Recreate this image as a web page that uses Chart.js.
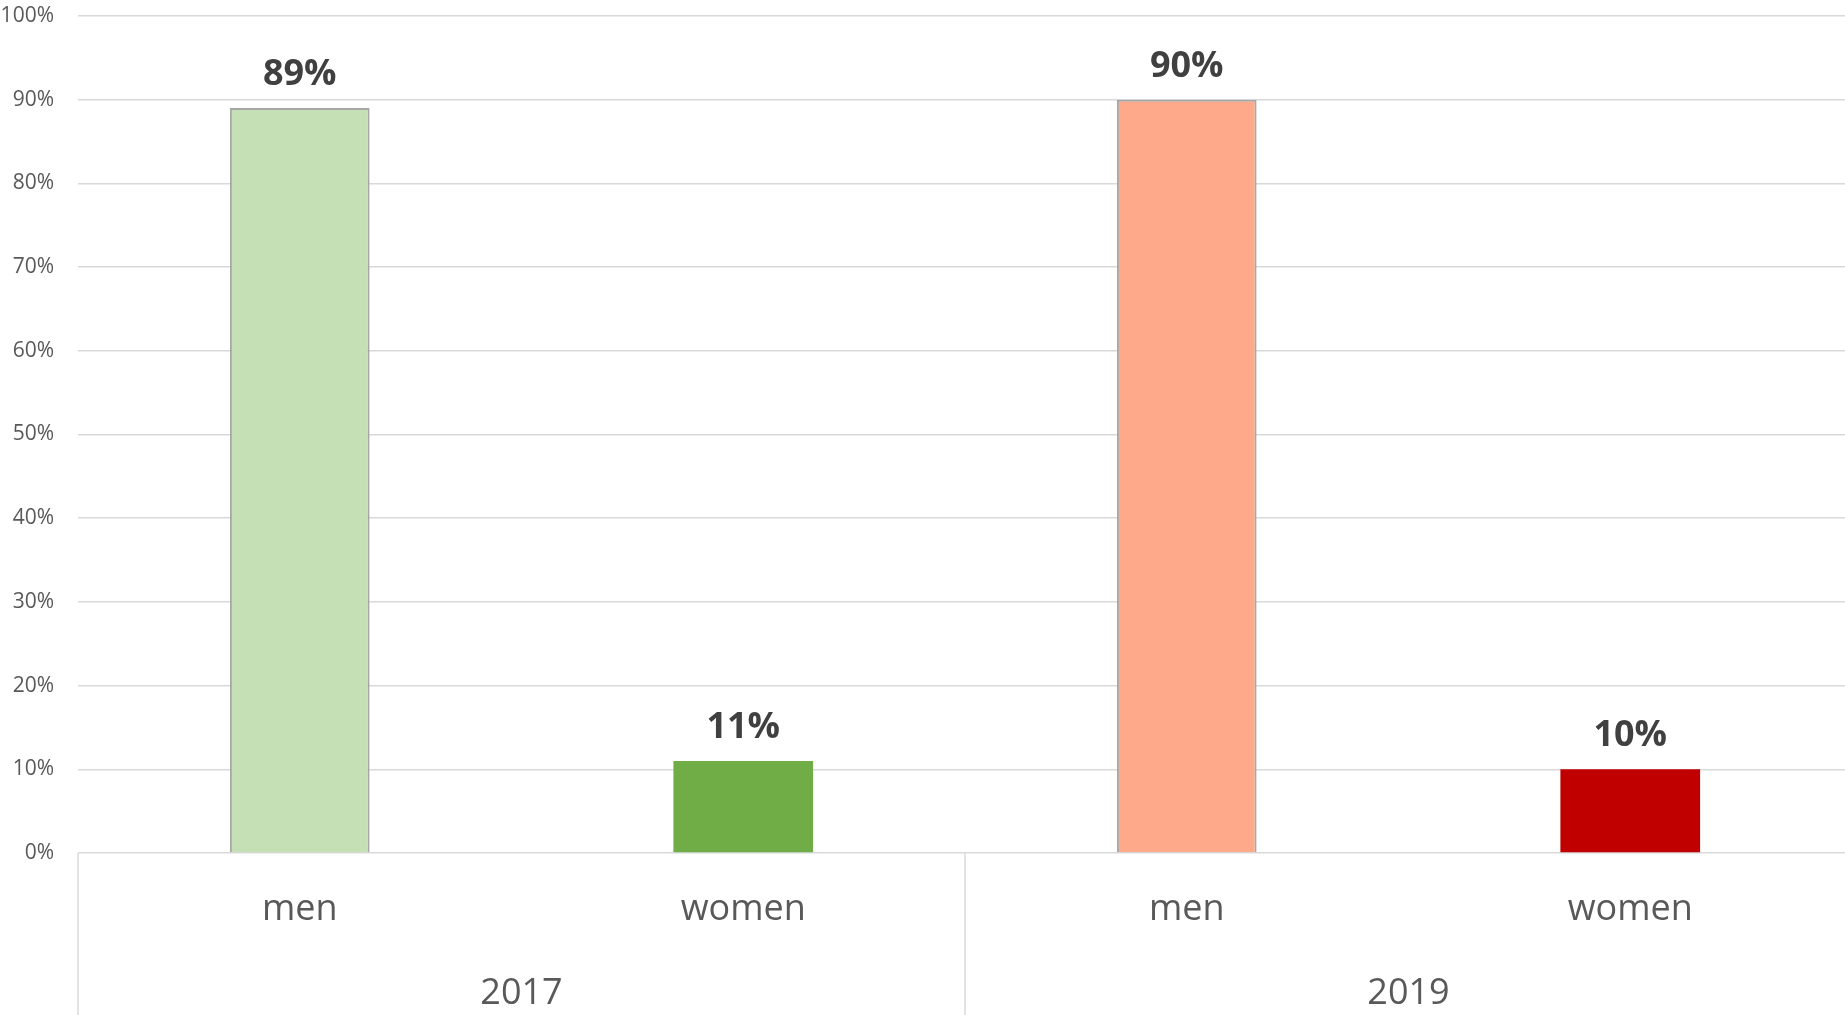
<!DOCTYPE html>
<html lang="en">
<head>
  <meta charset="UTF-8">
  <title>Men and women, 2017 and 2019</title>
  <script src="https://cdn.jsdelivr.net/npm/chart.js"></script>
  <style>
    body {
      margin: 0;
      background: #fff;
      overflow: hidden;
    }
    /* plot runs a few px past the right edge, as in the original */
    .wrap {
      width: 1852px;
      height: 1015px;
      position: relative;
    }
  </style>
</head>
<body>
  <div class="wrap">
    <canvas id="shareChart"></canvas>
  </div>

  <script>
    // data
    const groups = ['men', 'women', 'men', 'women'];
    const years = ['2017', '2019'];
    const shares = [89, 11, 90, 10];
    const barColors = ['#c5e0b4', '#70ad47', '#ffa98b', '#c00000'];
    const barBorders = ['#a6a6a6', '#70ad47', '#a6a6a6', '#c00000'];
    const yTicks = [0, 10, 20, 30, 40, 50, 60, 70, 80, 90, 100];

    const gridGrey = '#d9d9d9';
    const textGrey = '#595959';

    // value labels above the bars
    const valueLabels = {
      id: 'valueLabels',
      afterDatasetsDraw(chart) {
        const ctx = chart.ctx;
        const meta = chart.getDatasetMeta(0);
        ctx.save();
        ctx.font = 'bold 36px "Open Sans"';
        ctx.fillStyle = '#404040';
        ctx.textAlign = 'center';
        ctx.textBaseline = 'alphabetic';
        meta.data.forEach((bar, i) => {
          ctx.fillText(shares[i] + '%', bar.x, bar.y - 23);
        });
        ctx.restore();
      }
    };

    // separators of the two-level category axis
    const groupLines = {
      id: 'groupLines',
      afterDraw(chart) {
        const ctx = chart.ctx;
        const x = chart.scales.x;
        const area = chart.chartArea;
        const mid = (x.getPixelForValue(1) + x.getPixelForValue(2)) / 2;
        ctx.save();
        ctx.strokeStyle = gridGrey;
        ctx.lineWidth = 1.5;
        [area.left, mid].forEach(px => {
          ctx.beginPath();
          ctx.moveTo(px, area.bottom);
          ctx.lineTo(px, chart.height);
          ctx.stroke();
        });
        ctx.restore();
      }
    };

    new Chart(document.getElementById('shareChart'), {
      type: 'bar',
      data: {
        labels: groups,
        datasets: [{
          data: shares,
          backgroundColor: barColors,
          borderColor: barBorders,
          borderWidth: [2, 0, 2, 0],
          categoryPercentage: 1,
          barPercentage: 0.315
        }]
      },
      options: {
        responsive: true,
        maintainAspectRatio: false,
        animation: false,
        layout: { padding: { top: 16, right: 0, left: 0, bottom: 0 } },
        plugins: {
          legend: { display: false },
          tooltip: { enabled: false }
        },
        scales: {
          y: {
            min: 0,
            max: 100,
            afterBuildTicks: axis => { axis.ticks = yTicks.map(v => ({ value: v })); },
            border: { display: false },
            grid: { color: gridGrey, lineWidth: 1.5, drawTicks: true, tickLength: 24, tickColor: 'transparent' },
            ticks: {
              padding: 0,
              color: textGrey,
              font: { family: 'Open Sans', size: 21 },
              callback: v => v + '%'
            },
            afterFit: axis => { axis.width = 78; }
          },
          x: {
            weight: 0,
            border: { display: false },
            grid: { display: false, drawTicks: false },
            ticks: {
              padding: 35,
              color: textGrey,
              font: { family: 'Open Sans', size: 36 }
            },
            afterFit: axis => { axis.height = 100; }
          },
          x2: {
            type: 'category',
            position: 'bottom',
            labels: years,
            offset: true,
            weight: 1,
            border: { display: false },
            grid: { display: false, drawTicks: false },
            ticks: {
              padding: 19,
              color: textGrey,
              font: { family: 'Open Sans', size: 36 }
            },
            afterFit: axis => { axis.height = 62; }
          }
        }
      },
      plugins: [valueLabels, groupLines]
    });
  </script>
</body>
</html>
